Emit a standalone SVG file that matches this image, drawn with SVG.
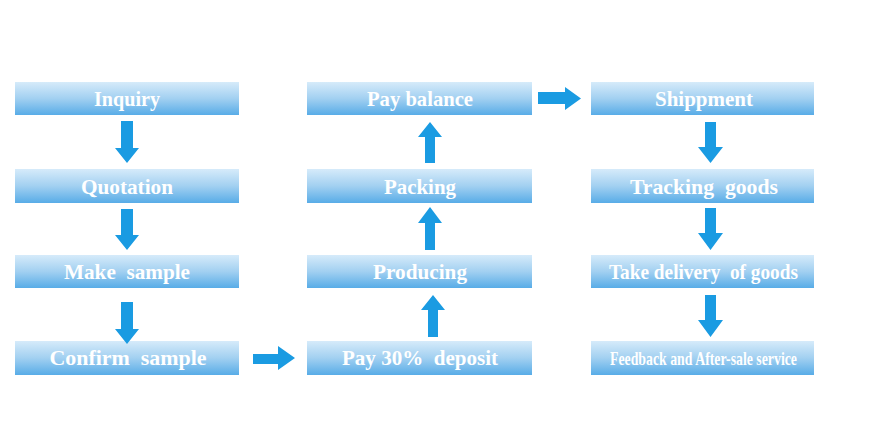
<svg xmlns="http://www.w3.org/2000/svg" width="877" height="429" viewBox="0 0 877 429">
<defs>
<linearGradient id="boxg" x1="0" y1="0" x2="0" y2="1">
<stop offset="0" stop-color="#d6ebfa"/>
<stop offset="0.5" stop-color="#a2d0f1"/>
<stop offset="1" stop-color="#58ace7"/>
</linearGradient>
<style>
.box{fill:url(#boxg);}
.lbl{font-family:"Liberation Serif","DejaVu Serif","Times New Roman",serif;font-size:22px;font-weight:bold;fill:#ffffff;text-anchor:middle;white-space:pre;}
.small{font-size:19px;}
.arr{fill:#1a9be2;}
</style>
</defs>
<rect width="877" height="429" fill="#ffffff"/>
<g id="inquiry"><rect class="box" x="15" y="82" width="224" height="33"/><text class="lbl" x="127" y="106" textLength="66" lengthAdjust="spacingAndGlyphs">Inquiry</text></g>
<g id="quotation"><rect class="box" x="15" y="169" width="224" height="34"/><text class="lbl" x="127" y="194" textLength="92" lengthAdjust="spacingAndGlyphs">Quotation</text></g>
<g id="make-sample"><rect class="box" x="15" y="255" width="224" height="33"/><text class="lbl" x="127" y="279" textLength="126" lengthAdjust="spacingAndGlyphs" xml:space="preserve">Make  sample</text></g>
<g id="confirm-sample"><rect class="box" x="15" y="341" width="224" height="34"/><text class="lbl" x="128" y="365" textLength="157" lengthAdjust="spacingAndGlyphs" xml:space="preserve">Confirm  sample</text></g>
<g id="pay-deposit"><rect class="box" x="307" y="341" width="225" height="34"/><text class="lbl" x="420" y="365" textLength="156" lengthAdjust="spacingAndGlyphs" xml:space="preserve">Pay 30%  deposit</text></g>
<g id="producing"><rect class="box" x="307" y="255" width="225" height="33"/><text class="lbl" x="420" y="279" textLength="94" lengthAdjust="spacingAndGlyphs">Producing</text></g>
<g id="packing"><rect class="box" x="307" y="169" width="225" height="34"/><text class="lbl" x="420" y="194" textLength="72" lengthAdjust="spacingAndGlyphs">Packing</text></g>
<g id="pay-balance"><rect class="box" x="307" y="82" width="225" height="33"/><text class="lbl" x="420" y="106" textLength="106" lengthAdjust="spacingAndGlyphs">Pay balance</text></g>
<g id="shippment"><rect class="box" x="591" y="82" width="223" height="33"/><text class="lbl" x="704" y="106" textLength="98" lengthAdjust="spacingAndGlyphs">Shippment</text></g>
<g id="tracking"><rect class="box" x="591" y="169" width="223" height="34"/><text class="lbl" x="704" y="194" textLength="148" lengthAdjust="spacingAndGlyphs" xml:space="preserve">Tracking  goods</text></g>
<g id="take-delivery"><rect class="box" x="591" y="255" width="223" height="33"/><text class="lbl" x="703.5" y="279" textLength="189" lengthAdjust="spacingAndGlyphs" xml:space="preserve">Take delivery  of goods</text></g>
<g id="feedback"><rect class="box" x="591" y="341" width="223" height="34"/><text class="lbl small" x="703.5" y="365" textLength="187" lengthAdjust="spacingAndGlyphs">Feedback and After-sale service</text></g>
<g id="connectors">
<path class="arr" d="M121,121H133V148H139L127,163L115,148H121Z"/>
<path class="arr" d="M121,209H133V235H139L127,250L115,235H121Z"/>
<path class="arr" d="M121,302H133V329H139L127,344L115,329H121Z"/>
<path class="arr" d="M253,354H278V346L295,358L278,370V364H253Z"/>
<path class="arr" d="M428,337V310H421L433,295L445,310H438V337Z"/>
<path class="arr" d="M425,250V223H418L430,207L442,223H435V250Z"/>
<path class="arr" d="M425,163V137H418L430,122L442,137H435V163Z"/>
<path class="arr" d="M538,92H565V87L581,98.5L565,110V104H538Z"/>
<path class="arr" d="M705,122H716V147H723L710.5,163L698,147H705Z"/>
<path class="arr" d="M705,208H716V233H723L710.5,250L698,233H705Z"/>
<path class="arr" d="M705,295H716V320H723L710.5,337L698,320H705Z"/>
</g>
</svg>
